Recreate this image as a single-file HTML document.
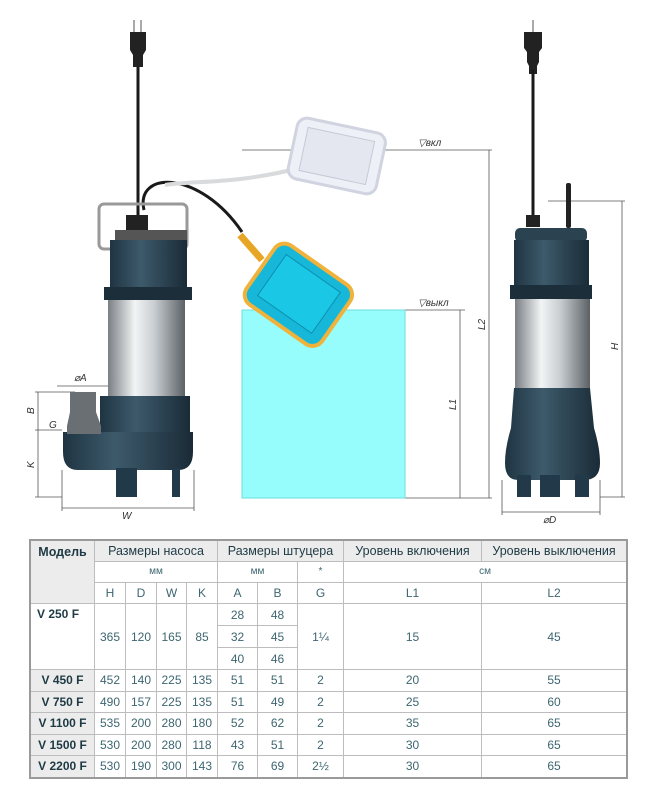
<!DOCTYPE html>
<html><head><meta charset="utf-8"><style>
body{margin:0;width:658px;height:800px;background:#fff;position:relative;overflow:hidden;font-family:"Liberation Sans",sans-serif}
svg{position:absolute;left:0;top:0}
table{position:absolute;left:29px;top:539px;border-collapse:collapse;width:599px;border:2px solid #9a9a9a;font-size:12px;color:#3d6670;line-height:14px}
td{border:1px solid #bdbdbd;text-align:center;padding:0;height:20.5px}
.h td{background:#ececec;color:#1e3a44;font-size:12.5px;height:20px}
.r2 td{height:20px}
.m{background:#ececec;color:#1e3a44;font-weight:bold;text-align:center}
.s{font-size:10px}
</style></head><body>
<svg width="658" height="535" viewBox="0 0 658 535">
<defs>
<linearGradient id="sil" x1="0" x2="1"><stop offset="0" stop-color="#7a7f84"/><stop offset=".35" stop-color="#f2f4f5"/><stop offset=".6" stop-color="#c9ced2"/><stop offset="1" stop-color="#5c6166"/></linearGradient>
<linearGradient id="dk" x1="0" x2="1"><stop offset="0" stop-color="#1f3442"/><stop offset=".4" stop-color="#3d5a6b"/><stop offset="1" stop-color="#1a2b37"/></linearGradient>
</defs>
<g stroke="#555" stroke-width="0.8" fill="none">
<line x1="242" y1="150" x2="492" y2="150"/><line x1="242" y1="310" x2="465" y2="310"/><line x1="405" y1="498" x2="492" y2="498"/>
<line x1="489" y1="150" x2="489" y2="498"/><line x1="460" y1="310" x2="460" y2="498"/>
<line x1="548" y1="201" x2="625" y2="201"/><line x1="600" y1="497" x2="625" y2="497"/><line x1="622" y1="201" x2="622" y2="497"/>
<line x1="502" y1="512" x2="600" y2="512"/><line x1="502" y1="480" x2="502" y2="515"/><line x1="600" y1="480" x2="600" y2="515"/>
<line x1="62" y1="508" x2="194" y2="508"/><line x1="62" y1="470" x2="62" y2="511"/><line x1="194" y1="470" x2="194" y2="511"/>
<line x1="38" y1="392" x2="38" y2="497"/><line x1="35" y1="392" x2="75" y2="392"/><line x1="35" y1="430" x2="62" y2="430"/><line x1="35" y1="497" x2="62" y2="497"/>
<line x1="57" y1="386" x2="108" y2="386"/>
</g>
<g fill="#333" font-size="10" font-style="italic">
<text x="418" y="146">▽вкл</text><text x="418" y="306">▽выкл</text>
<text x="485" y="330" transform="rotate(-90 485 330)">L2</text>
<text x="456" y="410" transform="rotate(-90 456 410)">L1</text>
<text x="618" y="350" transform="rotate(-90 618 350)">H</text>
<text x="543" y="523">⌀D</text><text x="122" y="519">W</text>
<text x="34" y="468" transform="rotate(-90 34 468)">K</text>
<text x="34" y="414" transform="rotate(-90 34 414)">B</text>
<text x="49" y="428">G</text><text x="74" y="381">⌀A</text>
</g>
<rect x="242" y="310" width="163" height="188" fill="#96fdfc" stroke="#6adede"/>
<line x1="134" y1="20" x2="134" y2="32" stroke="#aaa" stroke-width="2"/><line x1="141" y1="20" x2="141" y2="32" stroke="#aaa" stroke-width="2"/>
<path d="M130 32h16v18l-3 5v12h-10v-12l-3-5z" fill="#222"/>
<line x1="138" y1="67" x2="138" y2="215" stroke="#1a1a1a" stroke-width="3"/>
<path d="M144 210 C135 170 200 170 242 232" stroke="#1a1a1a" stroke-width="3" fill="none"/>
<path d="M165 185 C200 180 230 185 300 168" stroke="#d8dadc" stroke-width="4" fill="none"/>
<g transform="rotate(12 337 155)"><rect x="292" y="125" width="90" height="62" rx="10" fill="#eef0f8" stroke="#d0d3e0" stroke-width="3"/><rect x="303" y="134" width="68" height="44" fill="#e4e6f0" stroke="#c6c9d6"/></g>
<rect x="99" y="204" width="88" height="45" rx="5" fill="none" stroke="#999" stroke-width="3"/>
<rect x="126" y="215" width="22" height="15" fill="#222"/>
<rect x="115" y="230" width="72" height="12" fill="#555"/>
<rect x="110" y="240" width="77" height="48" fill="url(#dk)"/>
<rect x="104" y="287" width="88" height="13" fill="#1c2e3a"/>
<rect x="108" y="300" width="77" height="98" fill="url(#sil)"/>
<rect x="100" y="396" width="90" height="40" fill="url(#dk)"/>
<path d="M63 432h130v20q0 18-15 18h-100q-15 0-15-18z" fill="url(#dk)"/>
<rect x="116" y="468" width="21" height="29" fill="#22394a"/><rect x="172" y="468" width="8" height="29" fill="#22394a"/>
<path d="M70 392h26v20l5 14v8h-34v-8l3-14z" fill="#6a6f74"/>
<path d="M240 235 L262 260" stroke="#e8a626" stroke-width="7"/>
<g transform="rotate(35 297 295)"><rect x="252" y="258" width="92" height="72" rx="12" fill="#16b7d8" stroke="#f0b23a" stroke-width="4"/><rect x="265" y="268" width="66" height="50" fill="#1ac8e6" stroke="#0c90b0"/></g>
<line x1="533" y1="20" x2="533" y2="32" stroke="#aaa" stroke-width="2"/>
<path d="M524 32h18v16l-3 4v10l-2 4v8h-8v-8l-2-4v-10l-3-4z" fill="#222"/>
<line x1="533" y1="70" x2="533" y2="218" stroke="#1a1a1a" stroke-width="3"/>
<rect x="566" y="183" width="5" height="45" rx="2" fill="#222"/>
<rect x="526" y="215" width="14" height="12" fill="#222"/>
<rect x="515" y="228" width="72" height="14" rx="5" fill="#2b4250"/>
<rect x="514" y="240" width="75" height="48" fill="url(#dk)"/>
<rect x="510" y="285" width="82" height="14" fill="#1c2e3a"/>
<rect x="515" y="299" width="75" height="90" fill="url(#sil)"/>
<path d="M514 388h76l4 40q6 20 6 35q0 17-16 17h-66q-13 0-13-17q0-15 6-35z" fill="url(#dk)"/>
<rect x="517" y="475" width="14" height="22" fill="#22394a"/><rect x="540" y="475" width="20" height="22" fill="#22394a"/><rect x="575" y="475" width="14" height="22" fill="#22394a"/>
</svg>
<table>
<tr class="h"><td class="m" rowspan="3" style="vertical-align:top;padding-top:4px;width:63px">Модель</td><td colspan="4">Размеры насоса</td><td colspan="3">Размеры штуцера</td><td style="width:137px">Уровень включения</td><td>Уровень выключения</td></tr>
<tr class="r2"><td colspan="4" class="s">мм</td><td colspan="2" class="s">мм</td><td class="s" style="width:45px">*</td><td colspan="2" class="s">см</td></tr>
<tr class="r2"><td style="width:30px">H</td><td style="width:30px">D</td><td style="width:29px">W</td><td style="width:30px">K</td><td style="width:39px">A</td><td style="width:39px">B</td><td>G</td><td>L1</td><td>L2</td></tr>
<tr><td class="m" rowspan="3" style="vertical-align:top;text-align:left;padding-left:6px;padding-top:3px;color:#1e3a44;background:#fff">V 250 F</td><td rowspan="3">365</td><td rowspan="3">120</td><td rowspan="3">165</td><td rowspan="3">85</td><td style="height:21px">28</td><td>48</td><td rowspan="3">1¼</td><td rowspan="3">15</td><td rowspan="3">45</td></tr>
<tr><td style="height:21px">32</td><td>45</td></tr>
<tr><td style="height:21px">40</td><td>46</td></tr>
<tr><td class="m">V 450 F</td><td>452</td><td>140</td><td>225</td><td>135</td><td>51</td><td>51</td><td>2</td><td>20</td><td>55</td></tr>
<tr><td class="m">V 750 F</td><td>490</td><td>157</td><td>225</td><td>135</td><td>51</td><td>49</td><td>2</td><td>25</td><td>60</td></tr>
<tr><td class="m">V 1100 F</td><td>535</td><td>200</td><td>280</td><td>180</td><td>52</td><td>62</td><td>2</td><td>35</td><td>65</td></tr>
<tr><td class="m">V 1500 F</td><td>530</td><td>200</td><td>280</td><td>118</td><td>43</td><td>51</td><td>2</td><td>30</td><td>65</td></tr>
<tr><td class="m">V 2200 F</td><td>530</td><td>190</td><td>300</td><td>143</td><td>76</td><td>69</td><td>2½</td><td>30</td><td>65</td></tr>
</table>
</body></html>
